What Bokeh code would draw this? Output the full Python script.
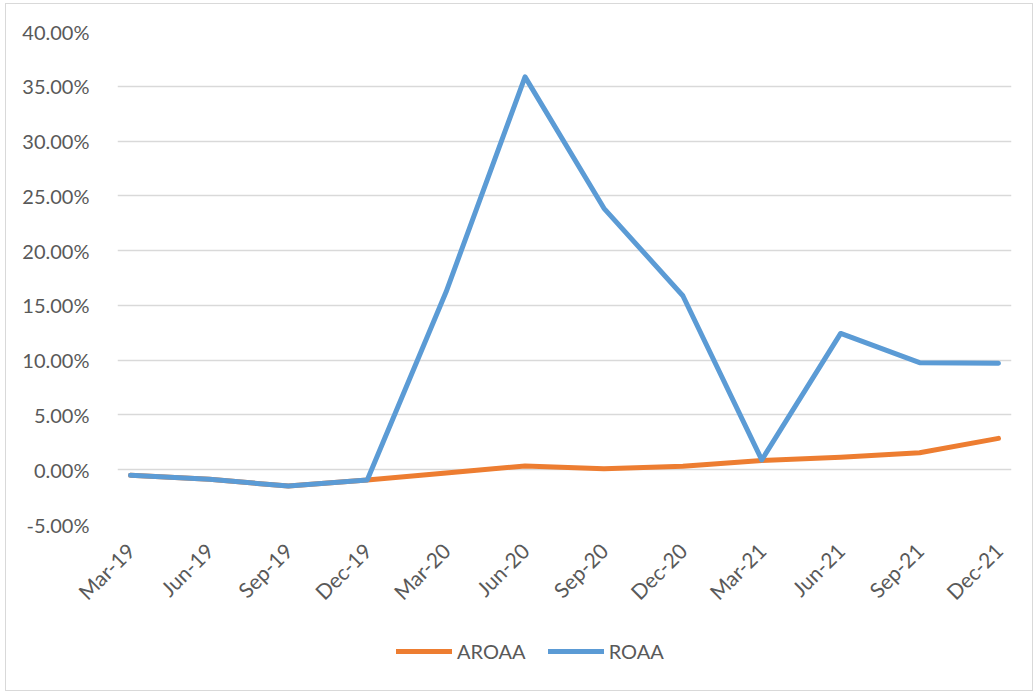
import math
from bokeh.plotting import figure
from bokeh.layouts import column
from bokeh.models import Range1d, FixedTicker, Legend, LegendItem, PrintfTickFormatter
from bokeh.embed import file_html
from bokeh.resources import INLINE

# Quarter-end labels and return-on-average-assets series (in percent)
quarters = ["Mar-19", "Jun-19", "Sep-19", "Dec-19", "Mar-20", "Jun-20",
            "Sep-20", "Dec-20", "Mar-21", "Jun-21", "Sep-21", "Dec-21"]
aroaa = [-0.51, -0.88, -1.49, -0.94, -0.30, 0.34, 0.10, 0.31, 0.85, 1.13, 1.55, 2.86]
roaa = [-0.51, -0.88, -1.49, -0.94, 16.24, 35.86, 23.86, 15.88, 0.89, 12.44, 9.77, 9.71]
y_ticks = [-5, 0, 5, 10, 15, 20, 25, 30, 35, 40]
series_names = ["AROAA", "ROAA"]
series_colors = ["#ED7D31", "#5B9BD5"]

x = list(range(len(quarters)))

TEXT = "#595959"
FONT = "Lato"
LW = 5

# ---- main chart -------------------------------------------------------
p = figure(width=1026, height=625, output_backend="svg", toolbar_location=None,
           x_range=Range1d(-0.165, len(quarters) - 1 + 0.165),
           y_range=Range1d(-5, 40))
p.min_border_left = 111
p.min_border_right = 21
p.min_border_top = 27
p.min_border_bottom = 105
p.outline_line_color = None
p.background_fill_color = "white"
p.border_fill_color = "white"

p.xaxis.ticker = FixedTicker(ticks=x)
p.xaxis.major_label_overrides = {i: q for i, q in enumerate(quarters)}
p.xaxis.major_label_orientation = math.pi / 4
p.yaxis.ticker = FixedTicker(ticks=y_ticks)
p.yaxis.formatter = PrintfTickFormatter(format="%.2f%%")
for ax in (p.xaxis, p.yaxis):
    ax.axis_line_color = None
    ax.major_tick_line_color = None
    ax.minor_tick_line_color = None
    ax.major_label_text_color = TEXT
    ax.major_label_text_font = FONT
p.yaxis.major_label_text_font_size = "20px"
p.xaxis.major_label_text_font_size = "21px"
p.yaxis.major_label_standoff = 22
p.xaxis.major_label_standoff = 16

p.xgrid.grid_line_color = None
p.ygrid.ticker = FixedTicker(ticks=y_ticks)
p.ygrid.grid_line_color = "#d9d9d9"
p.ygrid.grid_line_width = 1.3

p.line(x, aroaa, line_color=series_colors[0], line_width=LW,
       line_join="round", line_cap="round")
p.line(x, roaa, line_color=series_colors[1], line_width=LW,
       line_join="round", line_cap="round")

# ---- legend strip under the chart --------------------------------------
lg = figure(width=1026, height=61, output_backend="svg", toolbar_location=None,
            x_range=Range1d(0, 1), y_range=Range1d(0, 1))
lg.min_border = 0
lg.axis.visible = False
lg.grid.visible = False
lg.outline_line_color = None
lg.background_fill_color = "white"
lg.border_fill_color = "white"

items = []
for name, color in zip(series_names, series_colors):
    # swatch-only renderer: a single undefined point, so nothing is plotted
    r = lg.line([0], [float("nan")], line_color=color, line_width=LW,
                line_cap="round")
    items.append(LegendItem(label=name, renderers=[r]))

legend = Legend(items=items, orientation="horizontal", location=(279, 27),
                glyph_width=56, glyph_height=20, label_standoff=5, spacing=22,
                label_text_font=FONT, label_text_font_size="20px",
                label_text_color=TEXT, border_line_color=None,
                background_fill_alpha=0, margin=0, padding=0)
lg.add_layout(legend, "center")

page = column(p, lg, spacing=0)
page.margin = (3, 0, 0, 5)
page.styles = {"border": "1px solid #d9d9d9", "box-sizing": "border-box"}

open("out.html", "w").write(file_html(page, INLINE))
